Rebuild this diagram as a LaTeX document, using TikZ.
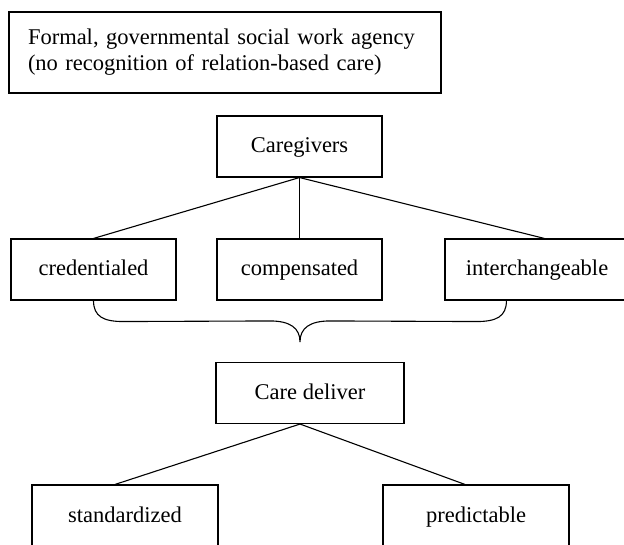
\documentclass[tikz,border=0pt]{standalone}
\usepackage{fontspec}
\setmainfont{Liberation Serif}
\usetikzlibrary{calc}
\begin{document}
\begin{tikzpicture}[x=1pt,y=-1pt,
  boxbase/.style={draw, line width=1.1pt, rectangle, inner sep=0pt,
    font=\fontsize{22.5}{26}\selectfont},
  onebox/.style={boxbase, text height=17pt, text depth=4pt, minimum height=61pt},
  link/.style={line width=1.1pt}]
\useasboundingbox (0,0) rectangle (624,545);
\node[boxbase, minimum width=432pt, minimum height=81pt, text width=394pt, align=left]
  (agency) at (225,52.5) {Formal, governmental social work agency\\(no recognition of relation-based care)};
\node[onebox, minimum width=165pt] (care) at (299.5,146.5) {Caregivers};
\node[onebox, minimum width=165pt] (cred) at (93.5,269.5) {credentialed};
\node[onebox, minimum width=165pt] (comp) at (299.5,269.5) {compensated};
\node[onebox, minimum width=184pt] (inter) at (537,269.5) {interchangeable};
\node[onebox, minimum width=188pt] (deliv) at (310,393) {Care deliver};
\node[onebox, minimum width=186pt] (stand) at (125,515.5) {standardized};
\node[onebox, minimum width=186pt] (pred) at (476,515.5) {predictable};
% connectors from Caregivers
\coordinate (interTop) at ($(inter.north west)+(100,0)$);
\draw[link] (care.south) -- (cred.north);
\draw[link] (care.south) -- (comp.north);
\draw[link] (care.south) -- (interTop);
% brace
\coordinate (braceL) at (cred.south);
\coordinate (braceR) at ($(inter.south west)+(62,0)$);
\coordinate (braceTip) at ($(deliv.north)+(-10,-20)$);
\draw[link] (braceL) .. controls ($(braceL)+(0,16)$) and ($(braceL)+(10,21)$) .. ($(braceL)+(30,21)$)
  -- ($(braceTip)+(-30,-21)$) .. controls ($(braceTip)+(-10,-21)$) and ($(braceTip)+(0,-14)$) .. (braceTip)
  .. controls ($(braceTip)+(0,-14)$) and ($(braceTip)+(10,-21)$) .. ($(braceTip)+(30,-21)$)
  -- ($(braceR)+(-30,21)$) .. controls ($(braceR)+(-10,21)$) and ($(braceR)+(0,16)$) .. (braceR);
% connectors from Care deliver
\coordinate (delivApex) at ($(deliv.south)+(-10,0)$);
\coordinate (standTop) at ($(stand.north)+(-10,0)$);
\coordinate (predTop) at ($(pred.north)+(-11,0)$);
\draw[link] (delivApex) -- (standTop);
\draw[link] (delivApex) -- (predTop);
\end{tikzpicture}
\end{document}
